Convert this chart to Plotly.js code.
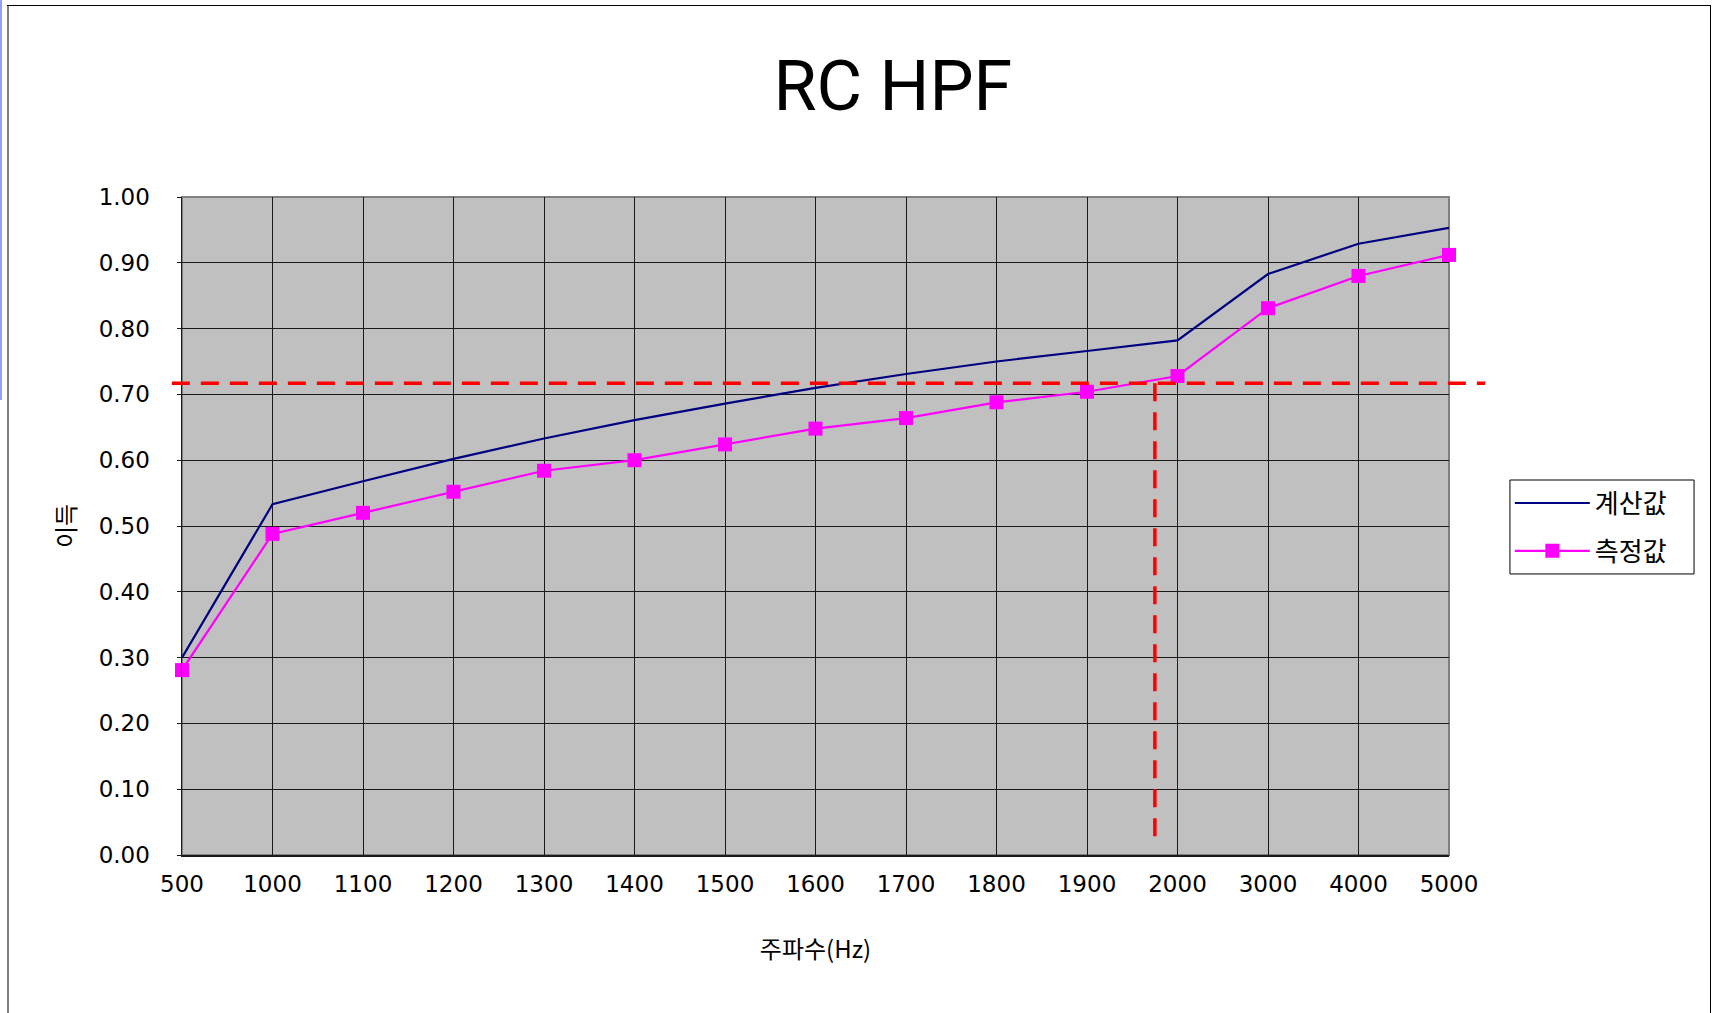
<!DOCTYPE html>
<html>
<head>
<meta charset="utf-8">
<script src="https://cdn.plot.ly/plotly-3.0.1.min.js"></script>
<style>
  html, body { margin: 0; padding: 0; background: #ffffff; }
  #wrap { position: relative; width: 1717px; height: 1013px; overflow: hidden; }
  #chart { position: absolute; left: 0; top: 0; width: 1717px; height: 1013px; }
  .frame { position: absolute; pointer-events: none; }
</style>
</head>
<body>
<div id="wrap">
  <div id="chart"></div>
  <div class="frame" style="left:0;top:0;width:2px;height:400px;background:#8fa2f5;"></div>
  <div class="frame" style="left:7px;top:5px;width:2px;height:1008px;background:#808080;"></div>
  <div class="frame" style="left:7px;top:5px;width:1704px;height:1px;background:#000000;"></div>
  <div class="frame" style="left:1710px;top:5px;width:1px;height:1008px;background:#000000;"></div>
</div>
<script>
// ---- data ----
const freqLabels = ['500','1000','1100','1200','1300','1400','1500','1600','1700','1800','1900','2000','3000','4000','5000'];
const calculatedGain = [0.300, 0.533, 0.568, 0.602, 0.633, 0.661, 0.686, 0.710, 0.731, 0.750, 0.766, 0.782, 0.883, 0.929, 0.953];
const measuredGain   = [0.281, 0.488, 0.520, 0.552, 0.584, 0.600, 0.624, 0.648, 0.664, 0.688, 0.704, 0.728, 0.831, 0.880, 0.912];
const seriesNames = ['계산값', '측정값'];
const yTickValues = [0, 0.1, 0.2, 0.3, 0.4, 0.5, 0.6, 0.7, 0.8, 0.9, 1.0];
const thresholdGain = 0.717;      // horizontal red dashed guide (≈ 1/√2)
const cutoffPosition = 10.75;     // vertical red dashed guide, in category positions
const cutoffLineBottom = 0.026;

const tickFont = { family: 'DejaVu Sans, Arial, sans-serif', size: 23, color: '#000000' };
const krFont = 'Noto Sans CJK KR, Noto Sans, sans-serif';

const traces = [
  {
    type: 'scatter', mode: 'lines',
    x: freqLabels, y: calculatedGain, name: seriesNames[0],
    legendgroup: 'a',
    line: { color: '#000080', width: 2.2 },
    cliponaxis: false
  },
  {
    type: 'scatter', mode: 'lines+markers',
    x: freqLabels, y: measuredGain, name: seriesNames[1],
    legendgroup: 'b',
    line: { color: '#ff00ff', width: 2.2 },
    marker: { symbol: 'square', size: 14, color: '#ff00ff' },
    cliponaxis: false
  }
];

const layout = {
  width: 1717, height: 1013,
  margin: { l: 182, r: 268, t: 197, b: 158, pad: 0 },
  paper_bgcolor: '#ffffff',
  plot_bgcolor: '#c0c0c0',
  showlegend: true,
  title: {
    text: 'RC HPF',
    font: { family: 'Roboto, Arial, sans-serif', size: 70, color: '#000000' },
    xref: 'container', yref: 'container',
    x: 0.52, xanchor: 'center',
    y: 0.916, yanchor: 'middle'
  },
  xaxis: {
    type: 'category',
    range: [0, 14],
    showgrid: true, gridcolor: '#1a1a1a', gridwidth: 1,
    showline: true, linecolor: '#1a1a1a', linewidth: 2,
    ticks: '', ticklabelstandoff: 7,
    tickfont: tickFont,
    zeroline: false,
    fixedrange: true,
    title: {
      text: '주파수(Hz)',
      font: { family: krFont, size: 24, color: '#000000' },
      standoff: 46
    }
  },
  yaxis: {
    range: [0, 1],
    tickvals: yTickValues,
    tickformat: '.2f',
    showgrid: true, gridcolor: '#1a1a1a', gridwidth: 1,
    showline: true, linecolor: '#1a1a1a', linewidth: 1.5,
    ticks: 'outside', ticklen: 4, tickcolor: '#1a1a1a', tickwidth: 1,
    ticklabelstandoff: 22,
    tickfont: tickFont,
    zeroline: false,
    fixedrange: true,
    title: {
      text: '이득',
      font: { family: krFont, size: 24, color: '#000000' },
      standoff: 16
    }
  },
  legend: {
    x: 1.048, xanchor: 'left',
    y: 0.5705, yanchor: 'top',
    bgcolor: 'rgba(0,0,0,0)',
    borderwidth: 0,
    font: { family: krFont, size: 26, color: '#000000' },
    traceorder: 'grouped',
    tracegroupgap: 11,
    itemwidth: 75
  },
  shapes: [
    {
      type: 'rect', xref: 'paper', yref: 'paper',
      x0: 0, x1: 1, y0: 0, y1: 1,
      line: { color: '#808080', width: 2 },
      fillcolor: 'rgba(0,0,0,0)',
      layer: 'between'
    },
    {
      // legend frame
      type: 'rect', xref: 'paper', yref: 'paper',
      x0: 1.0481, x1: 1.1934, y0: 0.4271, y1: 0.5699,
      line: { color: '#000000', width: 1 },
      fillcolor: '#ffffff',
      layer: 'below'
    },
    {
      type: 'line', xref: 'paper', yref: 'paper',
      x0: -0.008, x1: 1.0285, y0: thresholdGain, y1: thresholdGain,
      line: { color: '#ff0000', width: 3.5, dash: '18px,11px' },
      layer: 'above'
    },
    {
      type: 'line', xref: 'x', yref: 'y',
      x0: cutoffPosition, x1: cutoffPosition, y0: thresholdGain, y1: cutoffLineBottom,
      line: { color: '#ff0000', width: 3.5, dash: '18px,11px' },
      layer: 'above'
    }
  ]
};

Plotly.newPlot('chart', traces, layout, { staticPlot: true, displayModeBar: false });
</script>
</body>
</html>
